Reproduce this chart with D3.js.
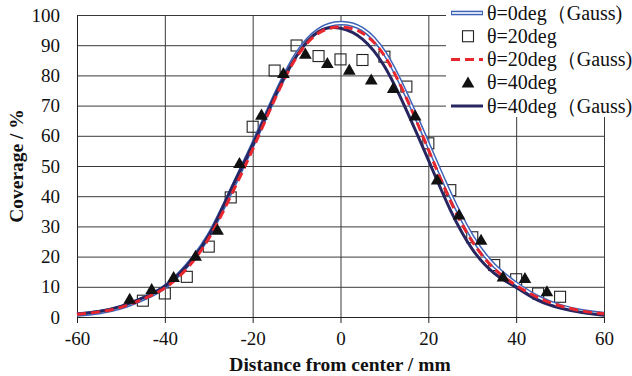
<!DOCTYPE html>
<html>
<head>
<meta charset="utf-8">
<script src="https://cdn.jsdelivr.net/npm/d3@7"></script>
<style>
  body { margin: 0; background: #fff; }
  svg { display: block; }
</style>
</head>
<body>
<div class="chart"></div>
<script>
// curve sample positions (mm)
const curveX = [-60, -55, -50, -45, -40, -35, -30, -25, -20, -15, -10, -5, 0, 5, 10, 15, 20, 25, 30, 35, 40, 45, 50, 55, 60];
const gauss0 = [0.8, 1.6, 3.2, 6.0, 10, 17, 27, 41.5, 57, 73, 87, 95, 97.3, 95.3, 87.5, 73.5, 57, 40.5, 26.5, 17, 11, 6.5, 3.6, 1.9, 1.0];
const gauss20 = [0.9, 1.7, 3.2, 5.9, 9.6, 16, 26, 40, 55.5, 72, 86, 94, 96, 94, 86.5, 72.5, 55.5, 38.5, 25, 16, 10.5, 6.4, 3.7, 2.0, 1.1];
const gauss40 = [0.9, 1.8, 3.5, 6.3, 10.2, 17, 27, 42, 57, 73, 86.5, 94.5, 95.6, 92, 83, 68.5, 52, 35.5, 22.5, 14.5, 9.8, 5.5, 3.0, 1.5, 0.6];

// measured points
const sq20X = [-45, -40, -35, -30, -25, -20, -15, -10, -5, 0, 5, 10, 15, 20, 25, 30, 35, 40, 45, 50];
const sq20Y = [5.4, 7.8, 13.3, 23.3, 39.6, 63, 81.6, 89.9, 86.4, 85.3, 85.1, 86.2, 76.3, 57.5, 42, 26.4, 17.2, 12.5, 7.8, 6.7];
const tri40X = [-48, -43, -38, -33, -28, -23, -18, -13, -8, -3, 2, 7, 12, 17, 22, 27, 32, 37, 42, 47];
const tri40Y = [5.9, 9.2, 13.1, 20.2, 28.8, 50.9, 66.9, 80.7, 87.1, 84, 81.8, 78.5, 75.7, 66.6, 45.4, 33.8, 25.5, 13.3, 12.8, 8.4];

const xTicks = [-60, -40, -20, 0, 20, 40, 60];
const yTicks = [0, 10, 20, 30, 40, 50, 60, 70, 80, 90, 100];
const legendLabels = ["θ=0deg（Gauss)", "θ=20deg", "θ=20deg（Gauss)", "θ=40deg", "θ=40deg（Gauss)"];

const width = 632, height = 376;
const margin = { top: 15, right: 28, bottom: 59, left: 77 };
const serif = "'Liberation Serif', 'Times New Roman', Times, serif";

const x = d3.scaleLinear().domain([-60, 60]).range([margin.left, width - margin.right]);
const y = d3.scaleLinear().domain([0, 100]).range([height - margin.bottom, margin.top]);

const svg = d3.select(".chart").append("svg")
	.attr("width", width)
	.attr("height", height)
	.attr("viewBox", [0, 0, width, height]);

const gridColor = "#3a3a3a";

// horizontal grid
svg.append("g")
	.attr("transform", `translate(${margin.left},0)`)
	.call(d3.axisLeft(y).tickValues(yTicks).tickSize(-(width - margin.left - margin.right)).tickFormat(""))
	.call(g => g.select(".domain").remove())
	.call(g => g.selectAll(".tick line").attr("stroke", gridColor));

// vertical grid
svg.append("g")
	.attr("transform", `translate(0,${margin.top})`)
	.call(d3.axisTop(x).tickValues(xTicks).tickSize(-(height - margin.top - margin.bottom)).tickFormat(""))
	.call(g => g.select(".domain").remove())
	.call(g => g.selectAll(".tick line").attr("stroke", gridColor));

// x axis
svg.append("g")
	.attr("transform", `translate(0,${height - margin.bottom})`)
	.call(d3.axisBottom(x).tickValues(xTicks).tickSize(6).tickPadding(8).tickSizeOuter(0).tickFormat(d => String(d)))
	.call(g => g.select(".domain").attr("stroke", "#222"))
	.call(g => g.selectAll(".tick line").attr("stroke", "#222"))
	.call(g => g.selectAll("text").style("font-family", serif).style("font-size", "19px").attr("fill", "#111").attr("dy", "0.75em"));

// y axis
svg.append("g")
	.attr("transform", `translate(${margin.left},0)`)
	.call(d3.axisLeft(y).tickValues(yTicks).tickSize(0).tickPadding(17).tickSizeOuter(0).tickFormat(d => String(d)))
	.call(g => g.select(".domain").attr("stroke", "#222"))
	.call(g => g.selectAll("text").style("font-family", serif).style("font-size", "19px").attr("fill", "#111"));

// axis titles
svg.append("text")
	.attr("x", 340)
	.attr("y", 371)
	.attr("text-anchor", "middle")
	.style("font-family", serif)
	.style("font-size", "19.5px")
	.style("font-weight", "bold")
	.attr("fill", "#111")
	.text("Distance from center / mm");

svg.append("text")
	.attr("transform", "translate(23,166) rotate(-90)")
	.attr("text-anchor", "middle")
	.style("font-family", serif)
	.style("font-size", "19.5px")
	.style("font-weight", "bold")
	.attr("fill", "#111")
	.text("Coverage / %");

const line = d3.line()
	.x((d, i) => x(curveX[i]))
	.y(d => y(d))
	.curve(d3.curveNatural);

const blue = "#3d63b8", red = "#e8262d", navy = "#272660";

// open squares (under the lines)
svg.append("g")
	.selectAll("rect")
	.data(sq20Y)
	.join("rect")
	.attr("x", (d, i) => x(sq20X[i]) - 5.5)
	.attr("y", d => y(d) - 5.5)
	.attr("width", 11)
	.attr("height", 11)
	.attr("fill", "none")
	.attr("stroke", "#222")
	.attr("stroke-width", 1.1);

// theta=0 gauss: double line
svg.append("path").datum(gauss0)
	.attr("fill", "none").attr("stroke", blue).attr("stroke-width", 4.6).attr("d", line);
svg.append("path").datum(gauss0)
	.attr("fill", "none").attr("stroke", "#fff").attr("stroke-width", 1.6).attr("d", line);

svg.append("path").datum(gauss40)
	.attr("fill", "none").attr("stroke", navy).attr("stroke-width", 3).attr("d", line);

svg.append("path").datum(gauss20)
	.attr("fill", "none").attr("stroke", red).attr("stroke-width", 3)
	.attr("stroke-dasharray", "9,5").attr("d", line);

const tri = d3.symbol().type(d3.symbolTriangle).size(70);

svg.append("g")
	.selectAll("path")
	.data(tri40Y)
	.join("path")
	.attr("transform", (d, i) => `translate(${x(tri40X[i])},${y(d) + 1})`)
	.attr("d", tri)
	.attr("fill", "#111");

// legend
const legend = svg.append("g");
legend.append("rect")
	.attr("x", 446).attr("y", 0)
	.attr("width", width - 446).attr("height", 117)
	.attr("fill", "#fff");

const rowY = d3.scalePoint().domain(legendLabels).range([13, 106]);
const lx0 = 451, lx1 = 483;

legendLabels.forEach((label, i) => {
	const ly = rowY(label);
	if (i === 0) {
		legend.append("line").attr("x1", lx0).attr("x2", lx1).attr("y1", ly).attr("y2", ly)
			.attr("stroke", blue).attr("stroke-width", 4.6);
		legend.append("line").attr("x1", lx0 + 1).attr("x2", lx1 - 1).attr("y1", ly).attr("y2", ly)
			.attr("stroke", "#fff").attr("stroke-width", 1.6);
	} else if (i === 1) {
		legend.append("rect").attr("x", 468 - 5.5).attr("y", ly - 5.5)
			.attr("width", 11).attr("height", 11)
			.attr("fill", "none").attr("stroke", "#222").attr("stroke-width", 1.1);
	} else if (i === 2) {
		legend.append("line").attr("x1", lx0).attr("x2", lx1).attr("y1", ly).attr("y2", ly)
			.attr("stroke", red).attr("stroke-width", 3).attr("stroke-dasharray", "9,5");
	} else if (i === 3) {
		legend.append("path").attr("transform", `translate(468,${ly + 1})`).attr("d", tri).attr("fill", "#111");
	} else {
		legend.append("line").attr("x1", lx0).attr("x2", lx1).attr("y1", ly).attr("y2", ly)
			.attr("stroke", navy).attr("stroke-width", 3);
	}
	legend.append("text")
		.attr("x", 487)
		.attr("y", ly + 6.5)
		.style("font-family", serif)
		.style("font-size", "20px")
		.attr("fill", "#111")
		.text(label);
});
</script>
</body>
</html>
